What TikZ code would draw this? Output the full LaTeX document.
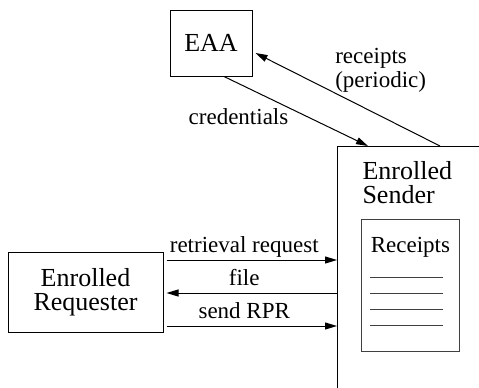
\documentclass[tikz,border=0pt]{standalone}
\usepackage{fontspec}
\setmainfont{Liberation Serif}
\newfontfamily\timesfont{Liberation Serif}
\usetikzlibrary{arrows.meta, positioning}

\begin{document}
\begin{tikzpicture}[
    x=1pt, y=1pt,
    party/.style={rectangle, draw, line width=1pt, font=\timesfont\fontsize{26}{24}\selectfont, align=center, inner sep=0pt},
    tag/.style={font=\timesfont\fontsize{23}{24}\selectfont, inner sep=0pt},
    flow/.style={-{Triangle[length=12pt, width=7pt]}, line width=1pt},
    msg/.style={tag, anchor=base, yshift=8pt, xshift=-6pt},
    rule/.style={line width=0.9pt, black!75}
]
\useasboundingbox (0,0) rectangle (479,-388);

\node[party, minimum width=82pt, minimum height=66pt] (eaa) at (211,-43) {EAA};
\node[party, anchor=north west, minimum width=220pt, minimum height=300pt,
      label={[party, draw=none, anchor=north west, align=left, xshift=25pt, yshift=-15pt]north west:Enrolled\\Sender}] (sender) at (337,-146) {};
\node[rectangle, draw, rule, anchor=north west, minimum width=98pt, minimum height=132pt,
      label={[tag, anchor=north, yshift=-18pt]north:Receipts}] (store) at (361,-219) {};
\node[party, minimum width=155pt, minimum height=80pt] (requester) at (85.5,-292) {Enrolled\\Requester};

% receipt lines
\foreach \k in {0,...,3}
    \draw[rule] ([xshift=9pt, yshift={-58-16*\k}]store.north west) -- ++(73,0);

\draw[flow] ([xshift=13pt]eaa.south) -- node[tag, pos=0.45, anchor=north east] {credentials} ([xshift=31pt]sender.north west);
\draw[flow] ([xshift=103pt]sender.north west) -- node[tag, pos=0.57, anchor=south west, align=left] {receipts\\(periodic)} ([xshift=3pt, yshift=-10pt]eaa.east);

\draw[flow, shorten <=3pt] ([yshift=32pt]requester.east) -- node[msg] {retrieval request} ([yshift=32pt]requester.east -| sender.west);
\draw[flow, shorten >=3pt] ([yshift=-1pt]requester.east -| sender.west) -- node[msg] {file} ([yshift=-1pt]requester.east);
\draw[flow, shorten <=3pt] ([yshift=-34pt]requester.east) -- node[msg] {send RPR} ([yshift=-34pt]requester.east -| sender.west);

\end{tikzpicture}
\end{document}
